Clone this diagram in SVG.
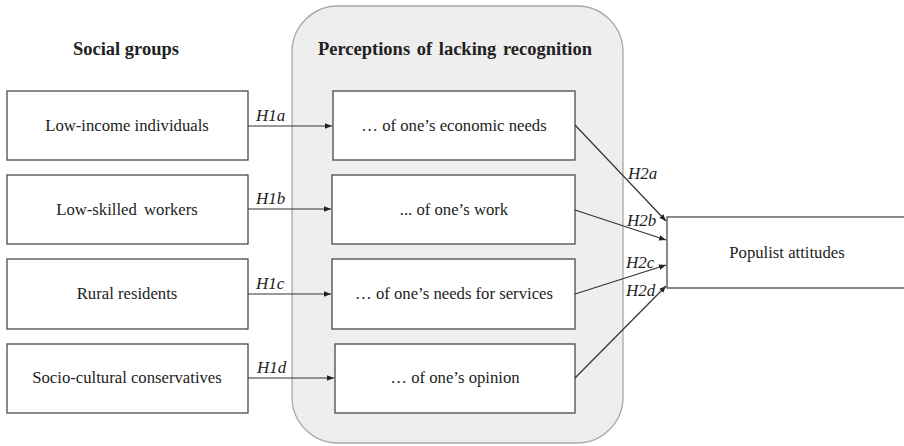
<svg xmlns="http://www.w3.org/2000/svg" width="904" height="446" viewBox="0 0 904 446" font-family="'Liberation Serif', 'Times New Roman', serif">
<defs>
<style>
.box{fill:#fff;stroke:#4a4a4a;stroke-width:1.3}
.t{font-size:16.7px;fill:#222;text-anchor:middle}
.h{font-size:18.5px;font-weight:bold;fill:#222;text-anchor:middle}
.l{font-size:17px;font-style:italic;fill:#222}
.c{stroke:#333;stroke-width:1.2;fill:none;marker-end:url(#ah)}
</style>
<marker id="ah" viewBox="0 0 10 10" refX="10" refY="5" markerWidth="7" markerHeight="7" markerUnits="userSpaceOnUse" orient="auto">
<path d="M0,1 L10,5 L0,9 z" fill="#222"/>
</marker>
</defs>
<rect width="904" height="446" fill="#fff"/>
<g id="container">
<rect x="292" y="6" width="331" height="437" rx="46" ry="46" fill="#eeeeee" stroke="#a8a8a8" stroke-width="1.3"/>
</g>
<g id="headings">
<text class="h" x="126" y="55">Social groups</text>
<text class="h" x="455" y="55" word-spacing="2">Perceptions of lacking recognition</text>
</g>
<g id="node-low-income">
<rect class="box" x="7" y="91" width="241" height="69"/>
<text class="t" x="127" y="131">Low-income individuals</text>
</g>
<g id="node-low-skilled">
<rect class="box" x="7" y="175" width="241" height="69"/>
<text class="t" x="127" y="215" word-spacing="3">Low-skilled workers</text>
</g>
<g id="node-rural">
<rect class="box" x="7" y="259" width="241" height="70"/>
<text class="t" x="127" y="299">Rural residents</text>
</g>
<g id="node-socio">
<rect class="box" x="7" y="344" width="241" height="69"/>
<text class="t" x="127" y="383">Socio-cultural conservatives</text>
</g>
<g id="node-economic">
<rect class="box" x="333" y="91" width="242" height="69"/>
<text class="t" x="454" y="131">… of one’s economic needs</text>
</g>
<g id="node-work">
<rect class="box" x="332" y="175" width="243" height="69"/>
<text class="t" x="454" y="215">... of one’s work</text>
</g>
<g id="node-services">
<rect class="box" x="332" y="259" width="243" height="70"/>
<text class="t" x="454" y="299">… of one’s needs for services</text>
</g>
<g id="node-opinion">
<rect class="box" x="335" y="344" width="240" height="69"/>
<text class="t" x="455" y="383">… of one’s opinion</text>
</g>
<g id="node-populist">
<rect class="box" x="667" y="217" width="245" height="71"/>
<text class="t" x="787" y="258">Populist attitudes</text>
</g>
<g id="connectors">
<line class="c" x1="248" y1="126" x2="332" y2="126"/>
<line class="c" x1="248" y1="209" x2="331" y2="209"/>
<line class="c" x1="248" y1="294" x2="331" y2="294"/>
<line class="c" x1="248" y1="378" x2="334" y2="378"/>
<line class="c" x1="575" y1="125" x2="666" y2="221"/>
<line class="c" x1="575" y1="210" x2="666" y2="240"/>
<line class="c" x1="575" y1="294" x2="666" y2="265"/>
<line class="c" x1="575" y1="378" x2="666" y2="286"/>
</g>
<g id="labels">
<text class="l" x="256" y="121">H1a</text>
<text class="l" x="256" y="204">H1b</text>
<text class="l" x="256" y="289">H1c</text>
<text class="l" x="257" y="373">H1d</text>
<text class="l" x="628" y="179">H2a</text>
<text class="l" x="627" y="226">H2b</text>
<text class="l" x="626" y="268">H2c</text>
<text class="l" x="626" y="296">H2d</text>
</g>
</svg>
